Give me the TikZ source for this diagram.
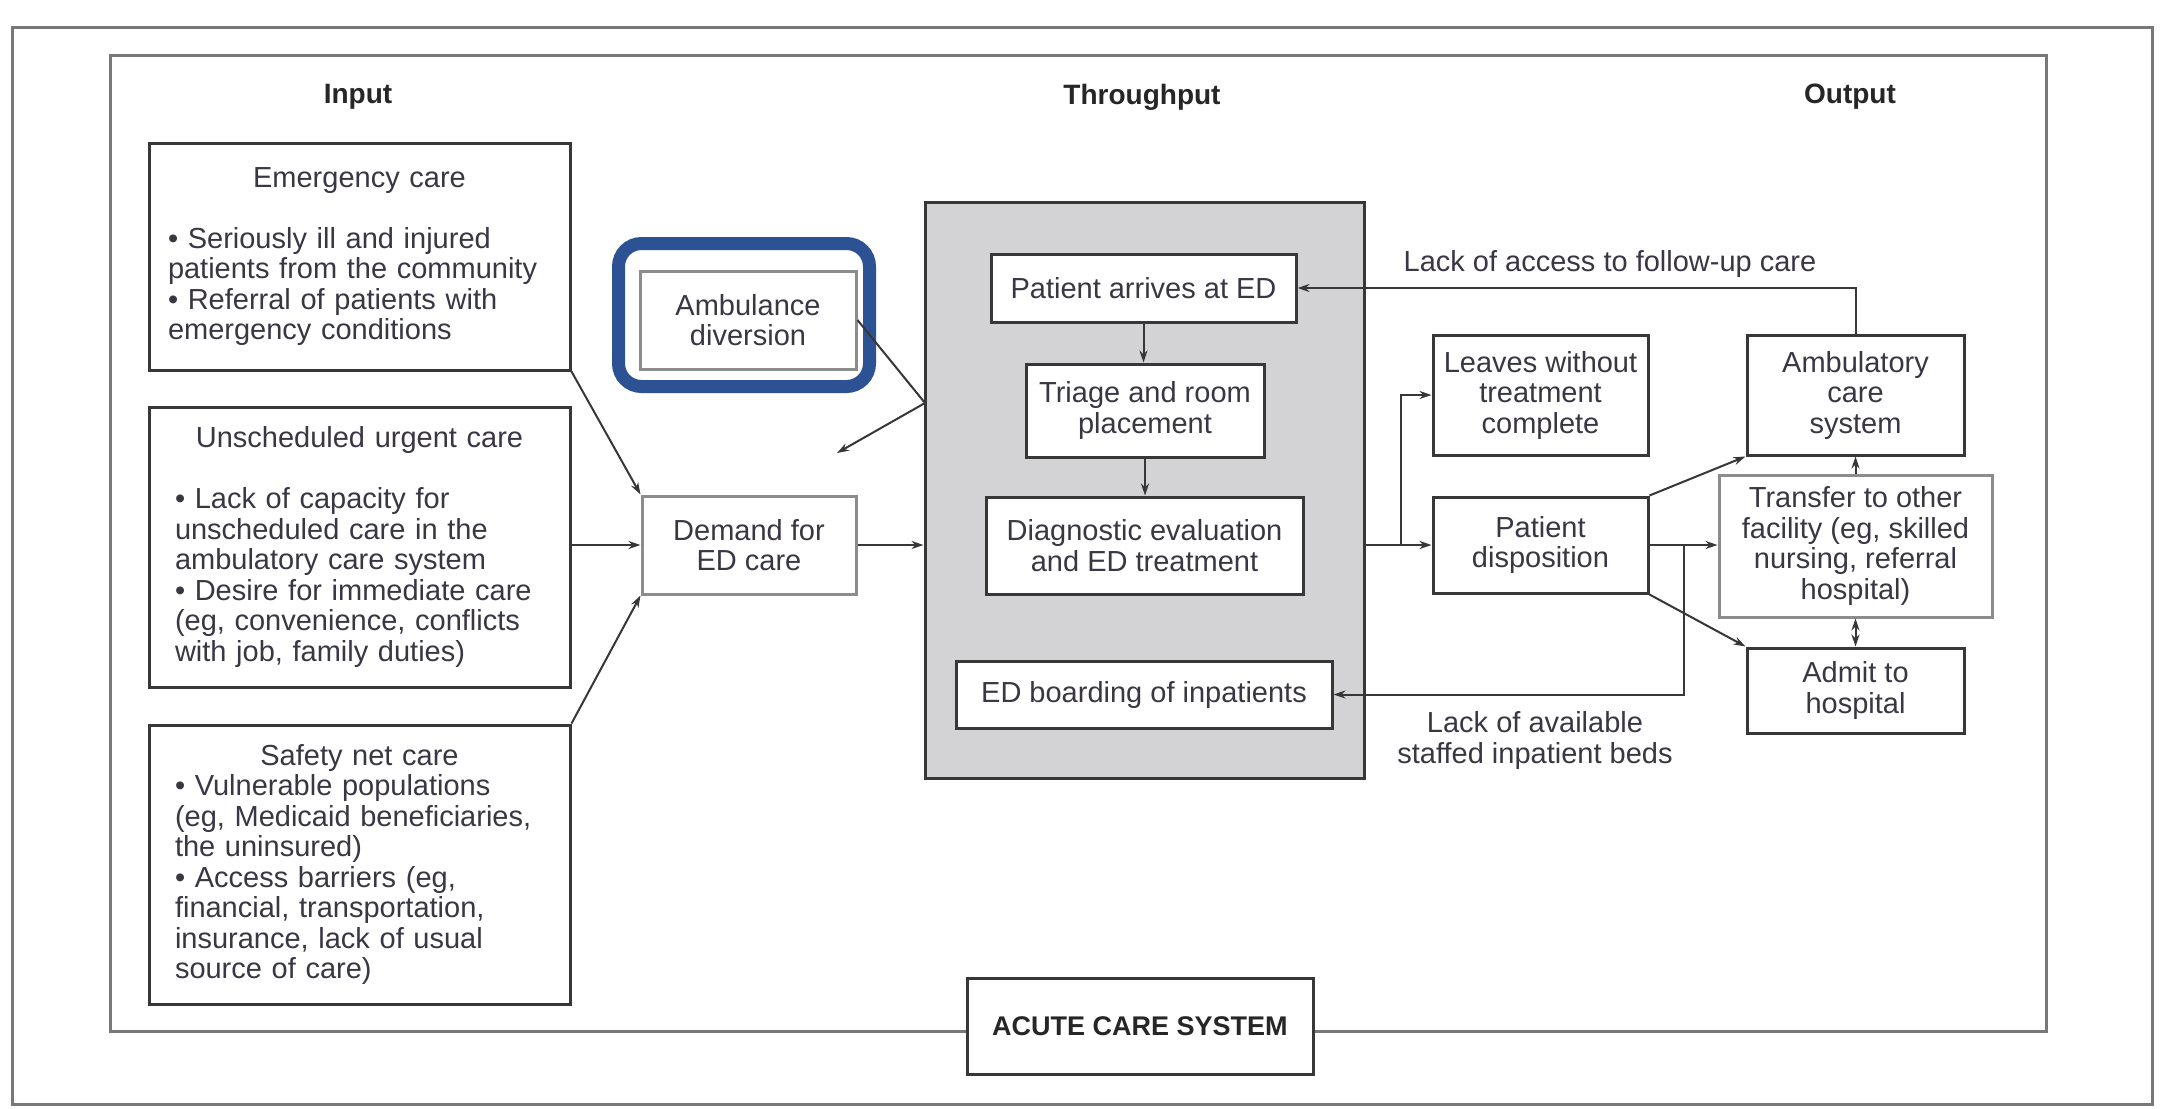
\documentclass[tikz,border=0pt]{standalone}
\usepackage{fontspec}
\setmainfont{Liberation Sans}
\usetikzlibrary{arrows.meta}
\definecolor{txt}{RGB}{58,54,68}
\definecolor{edgec}{RGB}{55,55,55}
\definecolor{lightedge}{RGB}{140,140,140}
\definecolor{framec}{RGB}{120,120,120}
\definecolor{grayfill}{RGB}{211,211,214}
\definecolor{hlblue}{RGB}{45,82,148}
\newcommand\mytxt{\fontsize{14.5pt}{15.25pt}\selectfont}
\begin{document}
\begin{tikzpicture}[x=0.5pt,y=-0.5pt,
  box/.style={draw=edgec, line width=1.5pt, fill=white, inner sep=0pt, align=center, font=\mytxt, text=txt},
  softbox/.style={box, draw=lightedge},
  frm/.style={draw=framec, line width=1.5pt, inner sep=0pt},
  arr/.style={draw=edgec, line width=1pt, -{Stealth[length=6pt,width=4pt]}},
  darr/.style={draw=edgec, line width=1pt, {Stealth[length=6pt,width=4pt]}-{Stealth[length=6pt,width=4pt]}},
  ln/.style={draw=edgec, line width=1pt},
  hdr/.style={font=\bfseries\fontsize{14pt}{16pt}\selectfont, text=black!85, inner sep=0pt},
  lbl/.style={font=\mytxt, text=txt, align=center, inner sep=0pt}]
\useasboundingbox (0,0) rectangle (2165,1109);
\fill[white] (0,0) rectangle (2165,1109);

% frames
\node[frm, minimum width=1070pt, minimum height=538.5pt] (outer) at (1082,565.5) {};
\node[frm, minimum width=968pt, minimum height=488pt] (inner) at (1078,543) {};
\node[box, font=\bfseries\fontsize{13.5pt}{15pt}\selectfont, text=black!85, minimum width=173pt, minimum height=48pt] (acute) at (1140,1026) {ACUTE CARE SYSTEM};

% headers
\node[hdr] (hin) at (358,97) {Input};
\node[hdr] (hthr) at (1142,97) {Throughput};
\node[hdr] (hout) at (1850,97) {Output};

% input boxes
\node[box, minimum width=210.5pt, minimum height=113.5pt, text width=191.5pt, align=left] (emerg) at (359.5,256.5)
 {\makebox[\linewidth][c]{Emergency care}\\[15.25pt]
  • Seriously ill and injured\\
  patients from the community\\
  • Referral of patients with\\
  emergency conditions};
\node[box, minimum width=210.5pt, minimum height=140pt, text width=184.5pt, align=left] (unsch) at (359.5,547)
 {\makebox[\linewidth][c]{Unscheduled urgent care}\\[15.25pt]
  • Lack of capacity for\\
  unscheduled care in the\\
  ambulatory care system\\
  • Desire for immediate care\\
  (eg, convenience, conflicts\\
  with job, family duties)};
\node[box, minimum width=210.5pt, minimum height=139.5pt, text width=184.5pt, align=left] (safety) at (359.5,864.5)
 {\makebox[\linewidth][c]{Safety net care}\\
  • Vulnerable populations\\
  (eg, Medicaid beneficiaries,\\
  the uninsured)\\
  • Access barriers (eg,\\
  financial, transportation,\\
  insurance, lack of usual\\
  source of care)};

\node[softbox, minimum width=108pt, minimum height=49pt] (amb) at (748,320) {Ambulance\\diversion};
\node[draw=hlblue, line width=6.5pt, rounded corners=11.5pt, minimum width=125.5pt, minimum height=71.5pt, inner sep=0pt] (hl) at (744,315) {};
\node[softbox, minimum width=107pt, minimum height=49pt] (demand) at (749,545) {Demand for\\ED care};

% throughput
\node[draw=edgec, line width=1.5pt, fill=grayfill, minimum width=219.5pt, minimum height=288pt, inner sep=0pt] (gray) at (1144.5,490) {};
\node[box, minimum width=152.5pt, minimum height=34pt] (arrive) at (1143.5,288) {Patient arrives at ED};
\node[box, minimum width=119pt, minimum height=46.5pt] (triage) at (1145,410.5) {Triage and room\\placement};
\node[box, minimum width=158.5pt, minimum height=48.5pt] (diag) at (1144.5,545.5) {Diagnostic evaluation\\and ED treatment};
\node[box, minimum width=188pt, minimum height=33.5pt] (board) at (1144,694.5) {ED boarding of inpatients};

% output
\node[box, minimum width=107.5pt, minimum height=60pt] (leaves) at (1540.5,395) {Leaves without\\treatment\\complete};
\node[box, minimum width=107.5pt, minimum height=48pt] (dispo) at (1540.5,545) {Patient\\disposition};
\node[box, minimum width=108.5pt, minimum height=60pt] (ambul) at (1855.5,395) {Ambulatory\\care\\system};
\node[softbox, minimum width=136.5pt, minimum height=71pt] (transfer) at (1855.5,546) {Transfer to other\\facility (eg, skilled\\nursing, referral\\hospital)};
\node[box, minimum width=108.5pt, minimum height=42.5pt] (admit) at (1855.5,690.5) {Admit to\\hospital};

% labels
\node[lbl] (lacc) at (1610,264) {Lack of access to follow-up care};
\node[lbl] (lbeds) at (1535,740.5) {Lack of available\\staffed inpatient beds};

% connectors
\draw[arr] (emerg.south east) -- (demand.north west);
\draw[arr] (unsch.east |- demand.west) -- (demand.west);
\draw[arr] (safety.north east) -- (demand.south west);
\draw[arr] (demand.east) -- (gray.west |- demand.east);
\coordinate (gv) at (925,403);
\coordinate (adend) at (837,453);
\draw[ln] (amb.east) -- (gv);
\draw[arr] (gv) -- (adend);

\draw[arr] (arrive.south) -- (arrive.south |- triage.north);
\draw[arr] (triage.south) -- (triage.south |- diag.north);

\draw[arr] (gray.east |- dispo.west) -- (dispo.west);
\coordinate (br1) at (1401,545);
\draw[arr] (br1) |- (leaves.west);
\draw[arr] (dispo.east) -- (transfer.west |- dispo.east);
\coordinate (br2) at (1684,545);
\draw[arr] (br2) |- (board.east);
\draw[arr] (dispo.north east) -- (ambul.south west);
\draw[arr] (dispo.south east) -- (admit.north west);
\draw[arr] (transfer.north) -- (ambul.south);
\draw[darr] (transfer.south) -- (admit.north);
\draw[arr] (ambul.north) |- (arrive.east);
\end{tikzpicture}
\end{document}
